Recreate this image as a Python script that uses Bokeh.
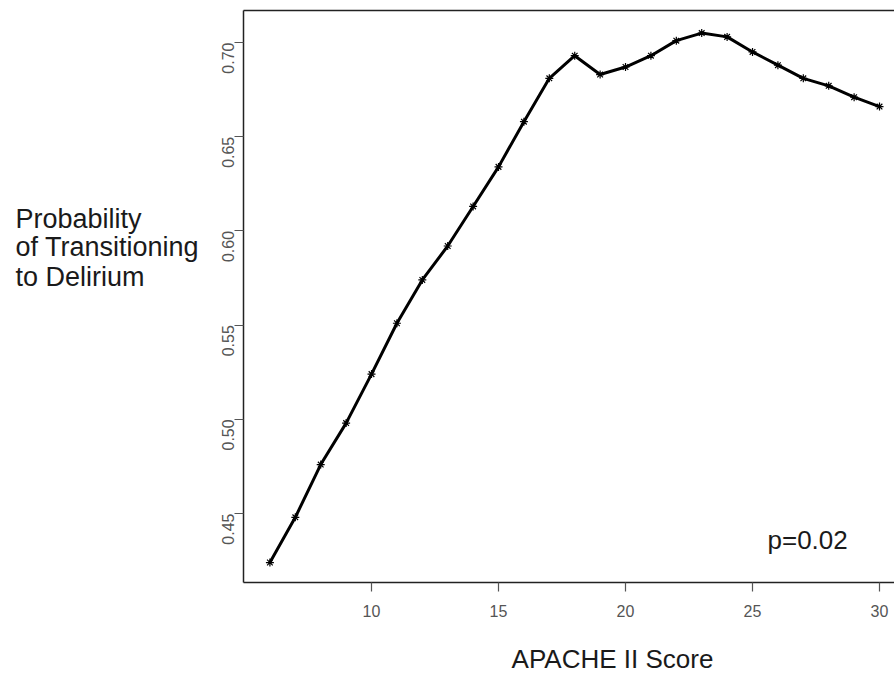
from bokeh.plotting import figure
from bokeh.models import Label, LinearAxis, FixedTicker, ColumnDataSource, Range1d
from bokeh.layouts import row, column
from bokeh.core.properties import value
from bokeh.embed import file_html
from bokeh.resources import INLINE
import math

# Data
apache_score = [6, 7, 8, 9, 10, 11, 12, 13, 14, 15, 16, 17, 18, 19, 20,
                21, 22, 23, 24, 25, 26, 27, 28, 29, 30]
prob_delirium = [0.424, 0.448, 0.476, 0.498, 0.524, 0.551, 0.574, 0.592, 0.613,
                 0.634, 0.658, 0.681, 0.693, 0.683, 0.687, 0.693, 0.701, 0.705,
                 0.703, 0.695, 0.688, 0.681, 0.677, 0.671, 0.666]
x_ticks = [10, 15, 20, 25, 30]
y_ticks = [0.45, 0.50, 0.55, 0.60, 0.65, 0.70]
y_tick_labels = {0.45: "0.45", 0.50: "0.50", 0.55: "0.55", 0.60: "0.60",
                 0.65: "0.65", 0.70: "0.70"}
y_label_lines = ["Probability", "of Transitioning", "to Delirium"]
x_label = "APACHE II Score"
p_text = "p=0.02"

FONT = "Liberation Sans"
LEFT_W = 205
AXIS_W = 38
TOTAL_W, TOTAL_H = 894, 673
XLAB_H = 30
MAIN_H = TOTAL_H - XLAB_H
TOP, BOTTOM = 10, MAIN_H - 582

X0, X1 = 4.96, 30.59
Y0, Y1 = 0.4134, 0.717
FW, FH = TOTAL_W - LEFT_W - AXIS_W, MAIN_H - TOP - BOTTOM

p = figure(width=TOTAL_W - LEFT_W, height=MAIN_H, output_backend="svg",
           toolbar_location=None,
           x_range=Range1d(X0, X1), y_range=Range1d(Y0, Y1),
           min_border_left=AXIS_W, min_border_right=0, min_border_top=TOP,
           min_border_bottom=BOTTOM, outline_line_color=None)
p.grid.visible = False

src = ColumnDataSource(dict(x=apache_score, y=prob_delirium))
p.line("x", "y", source=src, line_color="black", line_width=3)
p.scatter("x", "y", source=src, marker="asterisk", size=8, line_color="black",
          line_width=1.2)

xa = p.xaxis[0]
xa.ticker = FixedTicker(ticks=x_ticks)
ya = p.yaxis[0]
ya.ticker = FixedTicker(ticks=y_ticks)
ya.major_label_overrides = y_tick_labels
ya.major_label_orientation = math.pi / 2
for ax in (xa, ya):
    ax.axis_line_color = "#222222"
    ax.axis_line_width = 1.5
    ax.major_tick_line_color = "#555555"
    ax.major_tick_line_width = 1.2
    ax.major_tick_out = 9
    ax.major_tick_in = 0
    ax.minor_tick_line_color = None
    ax.major_label_text_font = FONT
    ax.major_label_text_font_size = "16px"
    ax.major_label_text_color = "#555555"
xa.major_label_standoff = 13
ya.major_label_standoff = 6

top = LinearAxis(ticker=FixedTicker(ticks=[]), axis_line_color="#222222",
                 axis_line_width=1.5, major_tick_out=0, major_tick_in=0,
                 major_label_standoff=0, minor_tick_line_color=None,
                 major_tick_line_color=None)
p.add_layout(top, "above")

# p-value annotation (inside the frame); y is the vertical middle of the text
p.add_layout(Label(x=X0 + (767 - LEFT_W - AXIS_W) / FW * (X1 - X0),
                   y=Y1 - (539 - TOP) / FH * (Y1 - Y0), text=p_text,
                   text_font=FONT, text_font_size="26px", text_color="#1a1a1a",
                   text_align="left", text_baseline="middle"))

# Left panel holding the horizontal three-line y-axis title
lp = figure(width=LEFT_W, height=MAIN_H, output_backend="svg",
            toolbar_location=None, x_axis_type=None, y_axis_type=None,
            x_range=Range1d(0, LEFT_W), y_range=Range1d(MAIN_H - BOTTOM, TOP),
            min_border_left=0, min_border_right=0, min_border_top=TOP,
            min_border_bottom=BOTTOM, outline_line_color=None)
lp.grid.visible = False
line_mids = [218, 246, 276]
lp.text(x=[15] * len(y_label_lines), y=line_mids, text=y_label_lines,
        text_font=value(FONT), text_font_size="27px", text_color="#1a1a1a",
        text_align="left", text_baseline="middle")

# Bottom strip holding the x-axis title
bp = figure(width=TOTAL_W, height=XLAB_H, output_backend="svg",
            toolbar_location=None, x_axis_type=None, y_axis_type=None,
            x_range=Range1d(0, TOTAL_W), y_range=Range1d(XLAB_H, 0),
            min_border=0, outline_line_color=None)
bp.grid.visible = False
bp.text(x=[612], y=[658 - MAIN_H], text=[x_label],
        text_font=value(FONT), text_font_size="26px", text_color="#1a1a1a",
        text_align="center", text_baseline="middle")

layout = column(row(lp, p, spacing=0), bp, spacing=0)
open("out.html", "w").write(file_html(layout, INLINE))
